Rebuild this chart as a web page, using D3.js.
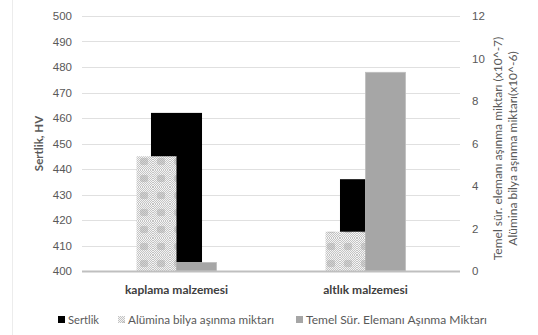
<!DOCTYPE html>
<html>
<head>
<meta charset="utf-8">
<script src="https://cdn.jsdelivr.net/npm/d3@7"></script>
<style>
  html, body { margin: 0; padding: 0; background: #fff; }
  svg { display: block; font-family: Lato, "Open Sans", sans-serif; }
</style>
</head>
<body>
<svg id="chart" width="538" height="335"></svg>
<script>
// Categories and series
const categories = ["kaplama malzemesi", "altlık malzemesi"];
const sertlik = [462, 436];                 // Sertlik, HV (left axis)
const alumina = [5.4, 1.85];                // Alümina bilya aşınma miktarı (x10^-6, right axis)
const temel = [0.4, 9.35];                  // Temel Sür. Elemanı Aşınma Miktarı (x10^-7, right axis)
const leftTicks = [400, 410, 420, 430, 440, 450, 460, 470, 480, 490, 500];
const rightTicks = [0, 2, 4, 6, 8, 10, 12];
const secondarySeries = ["alumina", "temel"];
const legendLabels = ["Sertlik", "Alümina bilya aşınma miktarı", "Temel Sür. Elemanı Aşınma Miktarı"];

const svg = d3.select("#chart");
const W = 538, H = 335;
const plot = { left: 82, right: 460, top: 16, bottom: 271 };
const textColor = "#595959";

// faint outer frame edge
svg.append("line").attr("x1", 12.5).attr("x2", 12.5).attr("y1", 0).attr("y2", H)
  .attr("stroke", "#ececec").attr("stroke-width", 1);

// patterns for the Alümina series
const defs = svg.append("defs");
const fine = defs.append("pattern").attr("id", "fine")
  .attr("patternUnits", "userSpaceOnUse").attr("width", 2).attr("height", 2);
fine.append("rect").attr("width", 2).attr("height", 2).attr("fill", "#f4f4f4");
fine.append("rect").attr("width", 1).attr("height", 1).attr("fill", "#c4c4c4");
fine.append("rect").attr("x", 1).attr("y", 1).attr("width", 1).attr("height", 1).attr("fill", "#c4c4c4");
const grid = defs.append("pattern").attr("id", "dotgrid")
  .attr("patternUnits", "userSpaceOnUse").attr("width", 17).attr("height", 17)
  .attr("x", 0).attr("y", 0);
grid.append("rect").attr("width", 17).attr("height", 17).attr("fill", "url(#fine)");
grid.append("rect").attr("x", 4).attr("y", 5).attr("width", 8).attr("height", 7).attr("rx", 2)
  .attr("fill", "#a8a8a8").attr("opacity", 0.45);

const x = d3.scaleBand().domain(categories).range([plot.left, plot.right]);
const yL = d3.scaleLinear().domain([400, 500]).range([plot.bottom, plot.top]);
const yR = d3.scaleLinear().domain([0, 12]).range([plot.bottom, plot.top]);
const primaryWidth = x.bandwidth() * 0.27;
const groupWidth = x.bandwidth() * 0.423;
const xs = d3.scaleBand().domain(secondarySeries).range([0, groupWidth]);

// gridlines
svg.append("g").selectAll("line").data(leftTicks.slice(1)).join("line")
  .attr("x1", plot.left).attr("x2", plot.right)
  .attr("y1", d => Math.round(yL(d)) + 0.5).attr("y2", d => Math.round(yL(d)) + 0.5)
  .attr("stroke", "#e0e0e0").attr("stroke-width", 1);

// left axis
const axL = svg.append("g").attr("transform", `translate(${plot.left - 10},0)`)
  .call(d3.axisLeft(yL).tickValues(leftTicks).tickSize(0).tickPadding(0));
axL.select(".domain").remove();
axL.selectAll("text").attr("fill", textColor).attr("font-size", 11.5);

// right axis
const axR = svg.append("g").attr("transform", `translate(${plot.right + 12},0)`)
  .call(d3.axisRight(yR).tickValues(rightTicks).tickSize(0).tickPadding(0));
axR.select(".domain").remove();
axR.selectAll("text").attr("fill", textColor).attr("font-size", 11.5);

// primary series: Sertlik
svg.append("g").selectAll("rect").data(categories).join("rect")
  .attr("x", (c) => x(c) + x.bandwidth() / 2 - primaryWidth / 2)
  .attr("width", primaryWidth)
  .attr("y", (c, i) => yL(sertlik[i]))
  .attr("height", (c, i) => yL(400) - yL(sertlik[i]))
  .attr("fill", "#000");

// secondary series drawn above the primary bars
const secData = [];
categories.forEach((c, i) => {
  secData.push({ c, s: "alumina", v: alumina[i] });
  secData.push({ c, s: "temel", v: temel[i] });
});
svg.append("g").selectAll("rect").data(secData).join("rect")
  .attr("x", d => x(d.c) + x.bandwidth() / 2 - groupWidth / 2 + xs(d.s))
  .attr("width", xs.bandwidth())
  .attr("y", d => yR(d.v))
  .attr("height", d => yR(0) - yR(d.v))
  .attr("fill", d => d.s === "alumina" ? "url(#dotgrid)" : "#a6a6a6")
  .attr("stroke", d => d.s === "alumina" ? "none" : "#bdbdbd")
  .attr("stroke-width", 0.8);

// category axis baseline
svg.append("line").attr("x1", plot.left).attr("x2", plot.right)
  .attr("y1", plot.bottom + 0.5).attr("y2", plot.bottom + 0.5)
  .attr("stroke", "#bfbfbf").attr("stroke-width", 2);

// category labels
svg.append("g").selectAll("text").data(categories).join("text")
  .attr("x", c => x(c) + x.bandwidth() / 2).attr("y", 294)
  .attr("text-anchor", "middle").attr("font-size", 12).attr("font-weight", "bold")
  .attr("fill", "#404040").text(c => c);

// axis titles
svg.append("text").attr("transform", `translate(43,${(plot.top + plot.bottom) / 2}) rotate(-90)`)
  .attr("text-anchor", "middle").attr("font-size", 11.5).attr("font-weight", "bold")
  .attr("fill", textColor).text("Sertlik, HV");
const rt = svg.append("text").attr("transform", `translate(502,${(plot.top + plot.bottom) / 2 + 5}) rotate(-90)`)
  .attr("text-anchor", "middle").attr("font-size", 12).attr("fill", textColor);
rt.append("tspan").attr("x", 0).attr("dy", 0).text("Temel sür. elemanı aşınma miktarı (x10^-7)");
rt.append("tspan").attr("x", 0).attr("dy", 15).text("Alümina bilya aşınma miktarı(x10^-6)");

// legend
const legendX = [58, 118, 296];
const legendTextWidth = [31, 146, 181];
const legendFill = ["#000", "url(#dotgrid)", "#a6a6a6"];
const lg = svg.append("g").selectAll("g").data(legendLabels).join("g")
  .attr("transform", (d, i) => `translate(${legendX[i]},316)`);
lg.append("rect").attr("width", 7).attr("height", 7).attr("fill", (d, i) => legendFill[i]);
lg.append("text").attr("x", 10).attr("y", 7.5).attr("font-size", 11.5).attr("fill", textColor)
  .attr("textLength", (d, i) => legendTextWidth[i]).attr("lengthAdjust", "spacingAndGlyphs")
  .text(d => d);
</script>
</body>
</html>
